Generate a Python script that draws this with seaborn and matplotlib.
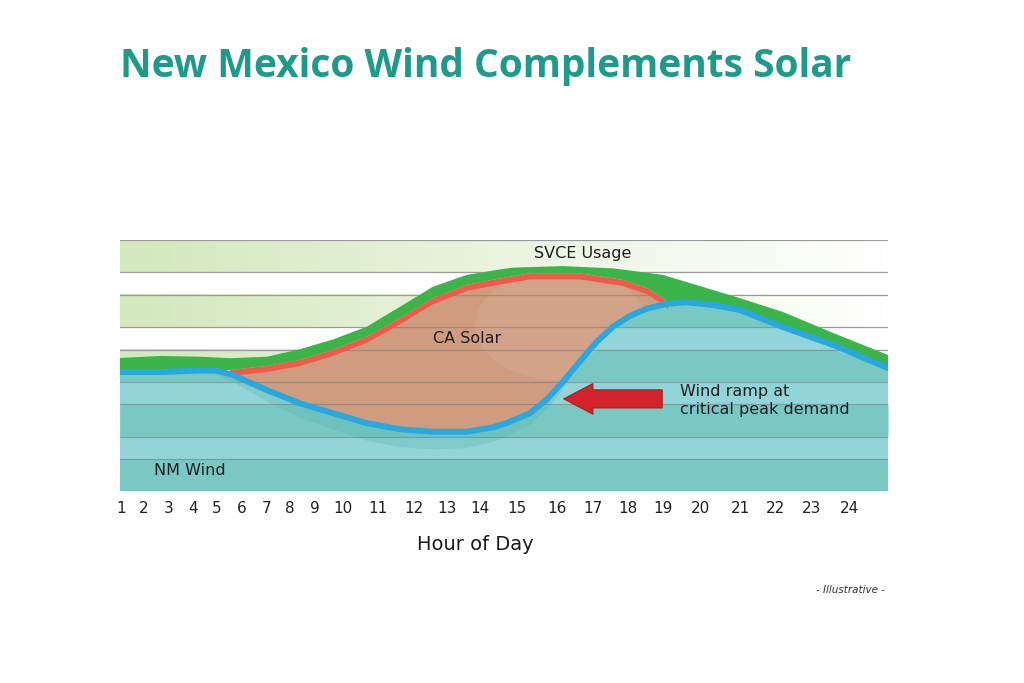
import numpy as np
import pandas as pd
import seaborn as sns
import matplotlib.pyplot as plt
from matplotlib.colors import LinearSegmentedColormap
from matplotlib.patches import Polygon, Ellipse

# ---- data (illustrative; y is a 0-100 relative load scale)
usage_hour = [1.00, 2.25, 3.50, 4.44, 5.59, 6.63, 7.66, 8.72, 9.75, 10.78, 11.84, 12.88,
              13.28, 14.84, 16.41, 17.97, 19.34, 20.38, 21.72, 23.28, 25.00]
usage = [53.0, 53.8, 53.5, 52.9, 53.5, 56.5, 60.4, 65.5, 73.4, 81.4, 86.1, 88.3,
         89.0, 89.6, 88.7, 86.1, 80.8, 76.8, 71.3, 63.0, 54.2]

solar_hour = [4.44, 5.59, 6.63, 7.66, 8.72, 9.75, 10.78, 11.84, 12.88, 13.81, 15.38,
              16.72, 17.47, 17.97, 18.13]
solar = [48.2, 49.8, 52.2, 56.2, 61.5, 68.8, 76.8, 82.1, 84.7, 86.7, 86.7,
         84.1, 80.8, 76.8, 74.9]

wind_hour = [1.00, 2.25, 3.50, 4.03, 4.53, 5.59, 6.63, 7.66, 8.72, 9.75, 10.78, 11.84,
             12.66, 13.09, 13.81, 14.34, 14.84, 15.38, 15.91, 16.41, 16.94, 17.47, 18.09,
             18.72, 19.53, 20.38, 21.72, 23.28, 25.00]
wind = [47.4, 47.4, 48.0, 47.9, 46.2, 40.2, 34.9, 31.0, 27.0, 24.6, 23.6, 23.6,
        25.4, 27.1, 31.0, 36.5, 43.5, 51.8, 59.6, 65.5, 69.8, 72.7, 74.6,
        75.2, 74.1, 72.1, 65.3, 58.2, 49.0]

tick_labels = [str(h) for h in range(1, 25)]
bands = [(0, 12.7), (21.5, 34.7), (43.4, 56.2), (65.3, 78.1), (87.3, 100)]

u_df = pd.DataFrame({"hour": usage_hour, "load": usage})
s_df = pd.DataFrame({"hour": solar_hour, "load": solar})
w_df = pd.DataFrame({"hour": wind_hour, "load": wind})

sns.set_theme(style="white")
plt.rcParams["font.family"] = ["DejaVu Sans"]

fig = plt.figure(figsize=(10.24, 6.83), dpi=100)
ax = fig.add_axes([120 / 1024, 1 - 491 / 683, 768 / 1024, 251 / 683])

# background bands, green fading to white
grad = np.linspace(0, 1, 256).reshape(1, -1)
cmap = LinearSegmentedColormap.from_list("g", ["#d3e8bc", "#eaf4df", "#ffffff"])
for y0, y1 in bands:
    ax.imshow(grad, cmap=cmap, extent=[1, 25, y0, y1], aspect="auto", zorder=1)

wx, wy = w_df["hour"].values, w_df["load"].values
sx, sy = s_df["hour"].values, s_df["load"].values
ux, uy = u_df["hour"].values, u_df["load"].values
red_w = 2.4

# lower edge of the green band: wind outside the solar hours, solar inside
left = wx < sx[0]
right = wx > sx[-1]
lo_x = np.concatenate([wx[left], sx, wx[right]])
lo_y = np.concatenate([wy[left], sy, wy[right]])

# solar (brown) area between solar curve and wind curve
mid = (wx >= sx[0]) & (wx <= sx[-1])
solar_poly = ax.fill(np.concatenate([sx, wx[mid][::-1]]), np.concatenate([sy, wy[mid][::-1]]),
                     color="#cf9c80", lw=0, zorder=2)[0]
glow = Ellipse((14.8, 66), 5.4, 44, color="white", alpha=0.08, lw=0, zorder=2.1)
ax.add_patch(glow)
glow.set_clip_path(solar_poly)

# wind area
ax.fill(np.concatenate([wx, [25, 1]]), np.concatenate([wy, [0, 0]]),
        color="#92d4d7", lw=0, zorder=2.2)
for y0, y1 in bands:
    ax.fill_between(wx, y0, np.minimum(y1, wy), where=wy > y0, interpolate=True,
                    color="#79c8c4", lw=0, zorder=2.4)
# soft shadow of the solar area on the wind area
sh = (wx > 3.8) & (wx < 15.5)
depth = 7 * np.sin(np.pi * (wx[sh] - 3.8) / (15.5 - 3.8)) ** 0.6
ax.fill_between(wx[sh], wy[sh] - depth, wy[sh], color="#4fb0a8", alpha=0.25, lw=0, zorder=2.5)

# band edge lines, darker where they cross the solar / wind areas
clip = Polygon(np.column_stack([np.concatenate([lo_x, [25, 1]]),
                                np.concatenate([lo_y, [0, 0]])]),
               closed=True, transform=ax.transData)
for y0, y1 in bands:
    for yy in (y0, y1):
        ln = ax.axhline(yy, color="#6f6f6f", lw=0.9, alpha=0.45, zorder=3)
        ln.set_clip_path(clip)
        ax.axhline(yy, color="#9a9a9a", lw=0.9, zorder=1.5)

# usage (green) band and solar edge (red)
ax.fill(np.concatenate([ux, lo_x[::-1]]), np.concatenate([uy, lo_y[::-1]]),
        color="#3bb44a", lw=0, zorder=4)
ax.fill(np.concatenate([sx, sx[::-1]]), np.concatenate([sy, (sy - red_w)[::-1]]),
        color="#ef5a4b", lw=0, zorder=4.2)
sns.lineplot(data=w_df, x="hour", y="load", color="#29a8e0", lw=4.3, ax=ax, zorder=6)

# labels in the plot
lab = dict(fontsize=11.5, color="#1f1f1f", ha="center", va="center", zorder=8)
ax.text(15.47, 94.8, "SVCE Usage", **lab)
ax.text(11.84, 60.6, "CA Solar", **lab)
ax.text(3.19, 8.0, "NM Wind", **lab)
ax.annotate("", xy=(14.78, 36.7), xytext=(18.03, 36.7),
            arrowprops=dict(arrowstyle="simple,head_length=1.05,head_width=1.1,tail_width=0.65",
                            fc="#d3232b", ec="#a81d24", lw=0.8, mutation_scale=20),
            zorder=9)
ax.text(18.5, 36.0, "Wind ramp at\ncritical peak demand", fontsize=11.5, color="#1f1f1f",
        ha="left", va="center", linespacing=1.2, zorder=8)

# axes
tick_x = [1.05, 1.73, 2.51, 3.27, 4.02, 4.80, 5.58, 6.31, 7.09, 7.98, 9.07, 10.17,
          11.21, 12.25, 13.40, 14.65, 15.79, 16.88, 17.98, 19.13, 20.38, 21.47, 22.62, 23.81]
ax.set_xlim(1, 25)
ax.set_ylim(0, 100)
ax.set_xticks(tick_x)
ax.set_xticklabels(tick_labels, fontsize=11, color="#231f20")
ax.tick_params(axis="x", length=0, pad=7)
ax.set_yticks([])
ax.set_xlabel("")
ax.set_ylabel("")
for sp in ax.spines.values():
    sp.set_visible(False)

fig.text(120 / 1024, 1 - 66 / 683, "New Mexico Wind Complements Solar", fontsize=28,
         fontweight="bold", color="#1e9a8a", ha="left", va="center",
         family=["Open Sans", "DejaVu Sans"])
fig.text(475 / 1024, 1 - 545 / 683, "Hour of Day", fontsize=14, color="#1a1a1a",
         ha="center", va="center")
fig.text(851 / 1024, 1 - 590 / 683, "- Illustrative -", fontsize=7.5, style="italic",
         color="#333333", ha="center", va="center")

fig.savefig("out.png", dpi=100)
